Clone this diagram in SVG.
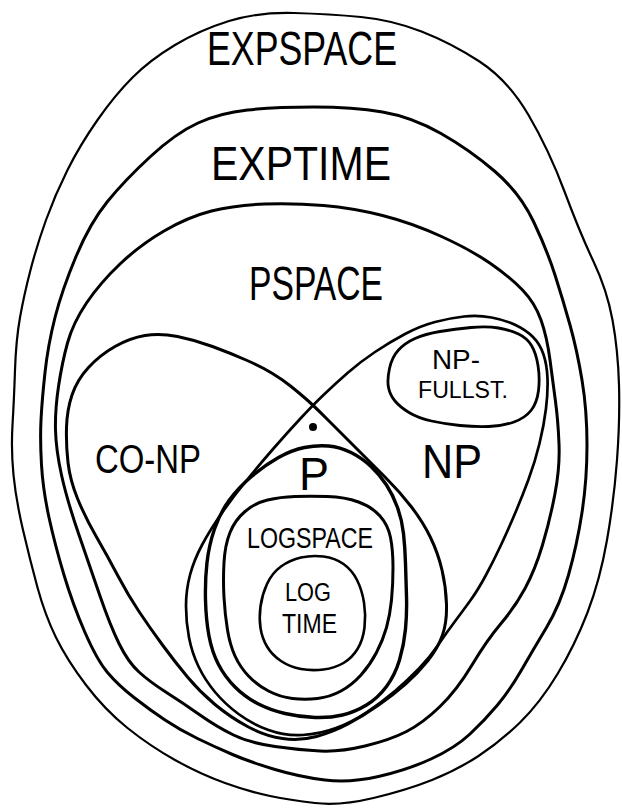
<svg xmlns="http://www.w3.org/2000/svg" width="622" height="810" viewBox="0 0 622 810">
<style>
.c{fill:none;stroke:#000;stroke-linejoin:round;stroke-linecap:round}
.t{font-family:"Liberation Sans",Arial,sans-serif;fill:#000}
</style>
<rect width="622" height="810" fill="#fff"/>
<g id="expspace">
<path class="c" stroke-width="2.2" d="M229,21 Q258,12 294,13 Q330,14 361,17 Q392,20 421.5,31.5 Q451,43 479.5,61.5 Q508,80 528.5,115 Q549,150 564.5,191.5 Q580,233 593.5,261.5 Q607,290 612.5,320 Q618,350 619,385 Q620,420 617,460 Q614,500 607,540 Q600,580 587.5,612.5 Q575,645 557.5,674 Q540,703 520,722.5 Q500,742 478.5,756 Q457,770 432,780 Q407,790 373.5,798 Q340,806 315,803 Q290,800 270,796 Q250,792 225,783 Q200,774 175,760 Q150,746 127.5,728 Q105,710 86,685 Q67,660 56,637.5 Q45,615 37.5,587.5 Q30,560 23,530 Q16,500 13.5,475 Q11,450 12.5,425 Q14,400 15,370 Q16,340 20,317.5 Q24,295 30.5,270 Q37,245 46,220 Q55,195 67.5,170 Q80,145 97.5,120 Q115,95 132.5,77.5 Q150,60 175,45 Q200,30 229,21 Z"/>
<text class="t" x="207" y="65" font-size="48" textLength="190" lengthAdjust="spacingAndGlyphs">EXPSPACE</text>
</g>
<g id="exptime">
<path class="c" stroke-width="3" d="M150.5,156.5 Q176,133 198,123 Q220,113 247.5,110 Q275,107 314,107 Q353,107 382.5,112 Q412,117 441,133.5 Q470,150 495,171.5 Q520,193 533.5,221.5 Q547,250 555,275 Q563,300 570,325 Q577,350 582,380 Q587,410 587,445 Q587,480 582,512.5 Q577,545 568.5,575 Q560,605 546.5,627.5 Q533,650 521.5,670 Q510,690 497.5,705 Q485,720 470,734 Q455,748 431,759 Q407,770 378.5,776.5 Q350,783 325,780 Q300,777 275,769.5 Q250,762 232.5,754.5 Q215,747 197.5,738.5 Q180,730 165,720 Q150,710 134,697.5 Q118,685 107.5,672.5 Q97,660 85,632.5 Q73,605 64,575 Q55,545 49,517.5 Q43,490 41.5,465 Q40,440 41,420 Q42,400 45,372.5 Q48,345 55,317.5 Q62,290 76,256.5 Q90,223 107.5,201.5 Q125,180 150.5,156.5 Z"/>
<text class="t" x="211" y="180" font-size="48" textLength="180" lengthAdjust="spacingAndGlyphs">EXPTIME</text>
</g>
<g id="pspace">
<path class="c" stroke-width="3" d="M164,231 Q188,217 211.5,211 Q235,205 264.5,204 Q294,203 323.5,205.5 Q353,208 382.5,215.5 Q412,223 441.5,236.5 Q471,250 490.5,263.5 Q510,277 522.5,290 Q535,303 541,320 Q547,337 550,360 Q553,383 555.5,401.5 Q558,420 559,443.5 Q560,467 555,493.5 Q550,520 542.5,545 Q535,570 525,588.5 Q515,607 501,623.5 Q487,640 472,665 Q457,690 440,706.5 Q423,723 406.5,731.5 Q390,740 365,746 Q340,752 320,751 Q300,750 275,746.5 Q250,743 233.5,735 Q217,727 200,715 Q183,703 166.5,692.5 Q150,682 139,672 Q128,662 119,643.5 Q110,625 100,596 Q90,567 78.5,533.5 Q67,500 61.5,475 Q56,450 55.5,430 Q55,410 58.5,386.5 Q62,363 67.5,343 Q73,323 86.5,303 Q100,283 120,264 Q140,245 164,231 Z"/>
<text class="t" x="249" y="300" font-size="48" textLength="134" lengthAdjust="spacingAndGlyphs">PSPACE</text>
</g>
<g id="co-np">
<path class="c" stroke-width="3" d="M305.5,398.5 Q313,405 326.5,418.5 Q340,432 355,447 Q370,462 385,477 Q400,492 411.5,507 Q423,522 430.5,537.5 Q438,553 442,570 Q446,587 446.5,604.5 Q447,622 442.5,635 Q438,648 428,660.5 Q418,673 405.5,684 Q393,695 378,705.5 Q363,716 348,724 Q333,732 316.5,736.5 Q300,741 282.5,738.5 Q265,736 247.5,726.5 Q230,717 215,704.5 Q200,692 187.5,677 Q175,662 162.5,645 Q150,628 139,611.5 Q128,595 118,576 Q108,557 96.5,537 Q85,517 77.5,498.5 Q70,480 68,462.5 Q66,445 66.5,427.5 Q67,410 72,395 Q77,380 88.5,367.5 Q100,355 115,346.5 Q130,338 145,335.5 Q160,333 177.5,336.5 Q195,340 212.5,346.5 Q230,353 246,360 Q262,367 272.5,373.5 Q283,380 290.5,386 Q298,392 305.5,398.5 Z"/>
<text class="t" x="95" y="473" font-size="40" textLength="106" lengthAdjust="spacingAndGlyphs">CO-NP</text>
</g>
<g id="np">
<path class="c" stroke-width="2.7" d="M300,419 Q313,405 324,394.5 Q335,384 347.5,373 Q360,362 375,352 Q390,342 405,334 Q420,326 435,322 Q450,318 464,316.5 Q478,315 491.5,317.5 Q505,320 515.5,325 Q526,330 533,337 Q540,344 543.5,354.5 Q547,365 547.5,378.5 Q548,392 546,408.5 Q544,425 539.5,443.5 Q535,462 528.5,479.5 Q522,497 515,513.5 Q508,530 501,545 Q494,560 486,575 Q478,590 470,601 Q462,612 454.5,622 Q447,632 438.5,644.5 Q430,657 419,668.5 Q408,680 395,691 Q382,702 367,712 Q352,722 336,728 Q320,734 302.5,735 Q285,736 268.5,730 Q252,724 238.5,714 Q225,704 215,692 Q205,680 198.5,666.5 Q192,653 189,637.5 Q186,622 186,606 Q186,590 190,575 Q194,560 202,545 Q210,530 221.5,513.5 Q233,497 246.5,480.5 Q260,464 273.5,448.5 Q287,433 300,419 Z"/>
<text class="t" x="422" y="478" font-size="48" textLength="60" lengthAdjust="spacingAndGlyphs">NP</text>
</g>
<g id="np-fullst">
<path class="c" stroke-width="2.8" d="M388.5,387.5 Q387,380 389.5,368.5 Q392,357 398.5,350 Q405,343 415,338.5 Q425,334 440,331.5 Q455,329 471,327.5 Q487,326 498.5,328 Q510,330 518.5,334 Q527,338 531.5,345.5 Q536,353 538,365.5 Q540,378 538.5,390.5 Q537,403 531,410.5 Q525,418 514,422 Q503,426 489,426.5 Q475,427 460,425.5 Q445,424 431.5,421 Q418,418 409,412.5 Q400,407 395,401 Q390,395 388.5,387.5 Z"/>
<text class="t" x="432" y="369" font-size="28" textLength="48" lengthAdjust="spacingAndGlyphs">NP-</text>
<text class="t" x="418" y="398" font-size="24" textLength="90" lengthAdjust="spacingAndGlyphs">FULLST.</text>
</g>
<g id="dot">
<circle cx="313" cy="427" r="4" fill="#000"/>
</g>
<g id="p">
<path class="c" stroke-width="3.4" d="M304.5,447.5 Q317,445 328.5,446 Q340,447 351,452.5 Q362,458 371,466.5 Q380,475 386.5,485 Q393,495 397.5,507.5 Q402,520 403.5,533.5 Q405,547 405.5,563.5 Q406,580 406.5,596.5 Q407,613 405.5,629 Q404,645 399.5,660 Q395,675 386.5,686.5 Q378,698 366.5,705 Q355,712 342.5,715 Q330,718 315,717.5 Q300,717 285,713.5 Q270,710 257.5,703.5 Q245,697 235,687 Q225,677 218.5,664.5 Q212,652 209,636 Q206,620 205.5,600 Q205,580 207,562.5 Q209,545 214.5,529 Q220,513 229,500.5 Q238,488 251.5,476.5 Q265,465 278.5,457.5 Q292,450 304.5,447.5 Z"/>
<text class="t" x="299" y="490" font-size="46" textLength="30" lengthAdjust="spacingAndGlyphs">P</text>
</g>
<g id="logspace">
<path class="c" stroke-width="3" d="M295,496.5 Q310,496 327.5,496.5 Q345,497 358.5,502 Q372,507 380,516 Q388,525 390.5,537.5 Q393,550 393,567.5 Q393,585 391.5,600 Q390,615 386.5,627.5 Q383,640 376.5,652.5 Q370,665 361,675 Q352,685 341,691 Q330,697 317.5,698.5 Q305,700 292.5,698.5 Q280,697 268.5,691 Q257,685 248.5,676 Q240,667 235,656 Q230,645 227.5,630 Q225,615 224,597.5 Q223,580 224,562.5 Q225,545 230,532.5 Q235,520 245,511.5 Q255,503 267.5,500 Q280,497 295,496.5 Z"/>
<text class="t" x="247" y="548" font-size="29" textLength="126" lengthAdjust="spacingAndGlyphs">LOGSPACE</text>
</g>
<g id="logtime">
<path class="c" stroke-width="2.6" d="M301,557.5 Q312,555 323.5,556.5 Q335,558 343.5,564 Q352,570 357,580 Q362,590 364,602.5 Q366,615 364.5,627.5 Q363,640 357.5,649 Q352,658 343.5,663 Q335,668 323.5,669.5 Q312,671 301,669 Q290,667 281,661 Q272,655 267,646.5 Q262,638 260.5,628 Q259,618 260.5,606.5 Q262,595 267,584 Q272,573 281,566.5 Q290,560 301,557.5 Z"/>
<text class="t" x="285" y="601" font-size="25" textLength="46" lengthAdjust="spacingAndGlyphs">LOG</text>
<text class="t" x="282" y="633" font-size="27" textLength="55" lengthAdjust="spacingAndGlyphs">TIME</text>
</g>
</svg>
